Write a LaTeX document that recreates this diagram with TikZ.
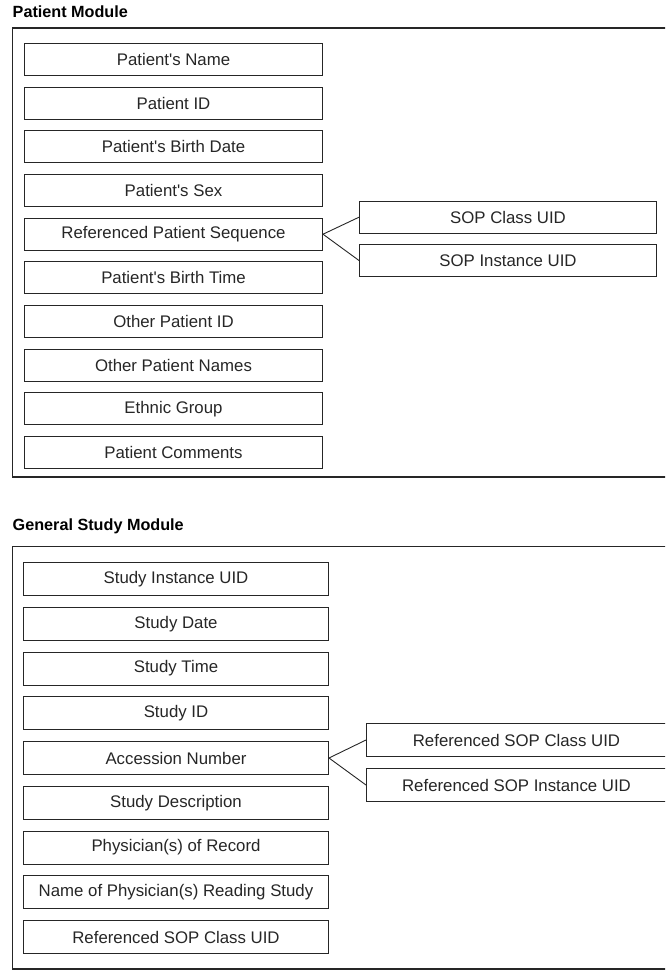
\documentclass[tikz,border=0pt]{standalone}
\usepackage{fontspec}
\setmainfont{Liberation Sans}
\newcommand{\apos}{\textquotesingle}
\begin{document}
\begin{tikzpicture}[x=1pt,y=-1pt,
  field/.style={draw=black!85, line width=1pt, anchor=north west, inner sep=0pt,
    minimum height=32pt, text=black!85, font=\fontsize{16.8}{20}\selectfont},
  pfield/.style={field, minimum width=298pt},
  sfield/.style={field, minimum width=305pt, minimum height=33pt},
  subfield/.style={field, minimum width=297pt},
  ssubfield/.style={field, minimum width=300pt, minimum height=33pt},
  frame/.style={draw=black!85, line width=1.3pt},
  title/.style={anchor=base west, inner sep=0pt, text=black, font=\fontsize{16.2}{19}\bfseries\selectfont},
  link/.style={draw=black!85, line width=0.9pt}]
\useasboundingbox (0,0) rectangle (665,971);
\clip (0,0) rectangle (665,971);

% ---------- Patient Module ----------
\node[title] (ptitle) at (12.5,17.3) {Patient Module};
\draw[frame] (12.5,28) rectangle (700,477);

\node[pfield] (pname)  at (24,43)    {Patient\apos s Name};
\node[pfield] (pid)    at (24,86.7)  {Patient ID};
\node[pfield] (pbdate) at (24,130.3) {Patient\apos s Birth Date};
\node[pfield] (psex)   at (24,174)   {Patient\apos s Sex};
\node[pfield] (prseq)  at (24,217.7) {Referenced Patient Sequence};
\node[pfield] (pbtime) at (24,261.3) {Patient\apos s Birth Time};
\node[pfield] (popid)  at (24,305)   {Other Patient ID};
\node[pfield] (popn)   at (24,348.7) {Other Patient Names};
\node[pfield] (peth)   at (24,392.3) {Ethnic Group};
\node[pfield] (pcom)   at (24,436)   {Patient Comments};

\node[subfield] (psopc) at (359,200.7) {SOP Class UID};
\node[subfield] (psopi) at (359,244)   {SOP Instance UID};

\draw[link] (prseq.east) -- (psopc.west);
\draw[link] (prseq.east) -- (psopi.west);

% ---------- General Study Module ----------
\node[title] (stitle) at (12.5,530) {General Study Module};
\draw[frame] (12.5,546.7) rectangle (700,969);

\node[sfield] (suid)   at (23,562)    {Study Instance UID};
\node[sfield] (sdate)  at (23,606.75) {Study Date};
\node[sfield] (stime)  at (23,651.5)  {Study Time};
\node[sfield] (sid)    at (23,696.25) {Study ID};
\node[sfield] (sacc)   at (23,741)    {Accession Number};
\node[sfield] (sdesc)  at (23,785.75) {Study Description};
\node[sfield] (sphys)  at (23,830.5)  {Physician(s) of Record};
\node[sfield] (sread)  at (23,875.25) {Name of Physician(s) Reading Study};
\node[sfield] (srsop)  at (23,920)    {Referenced SOP Class UID};

\node[ssubfield] (ssopc) at (366,723) {Referenced SOP Class UID};
\node[ssubfield] (ssopi) at (366,768) {Referenced SOP Instance UID};

\draw[link] (sacc.east) -- (ssopc.west);
\draw[link] (sacc.east) -- (ssopi.west);
\end{tikzpicture}
\end{document}
